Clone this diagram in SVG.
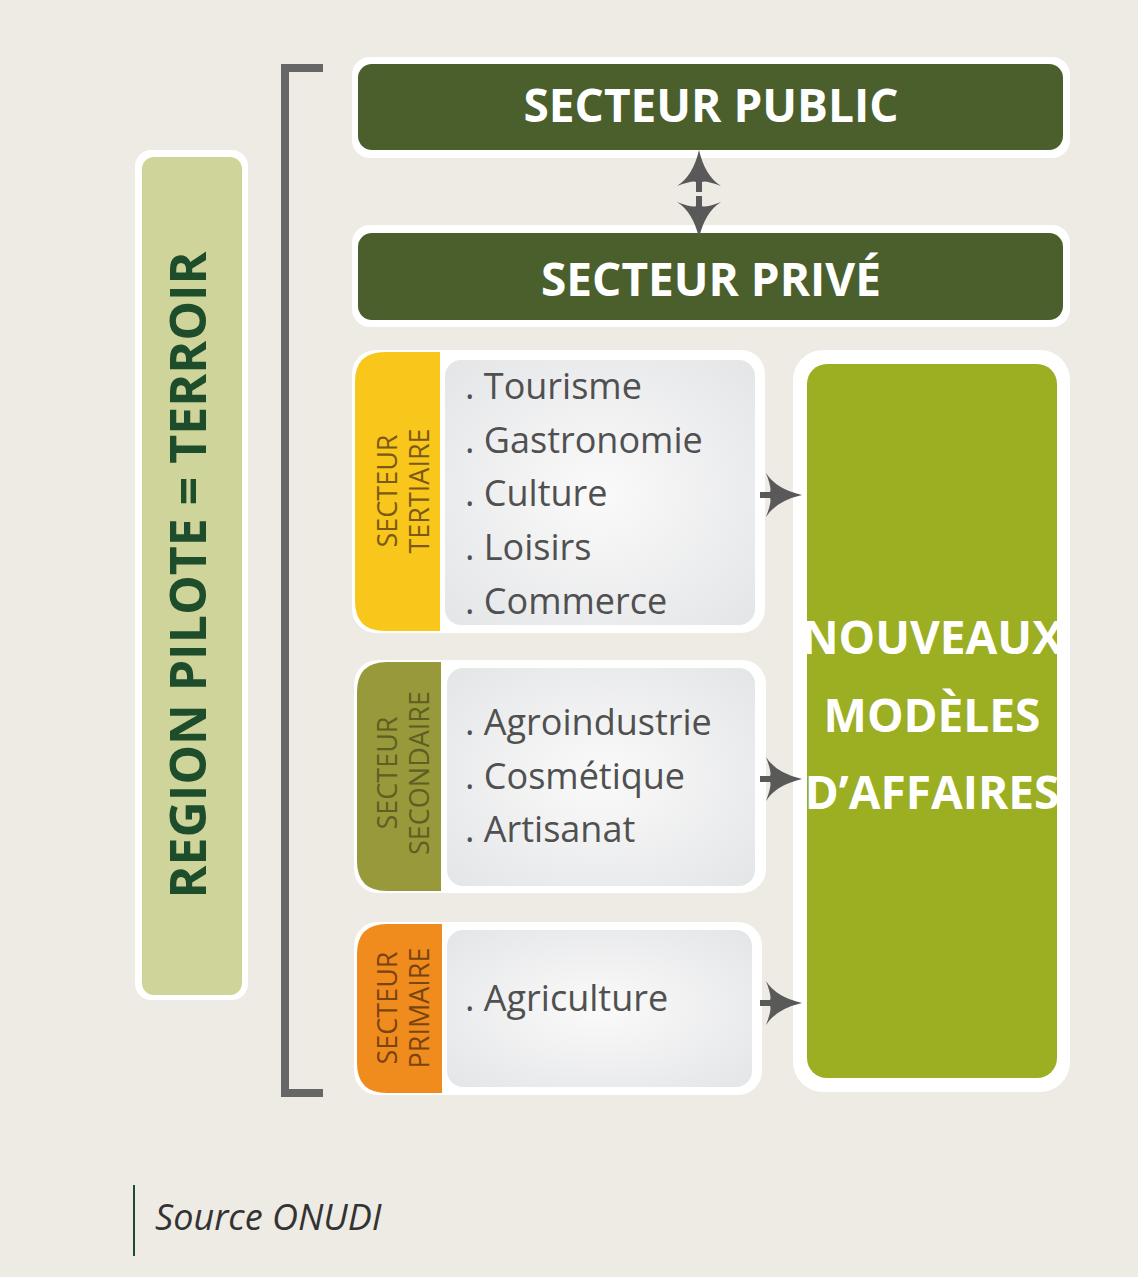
<svg xmlns="http://www.w3.org/2000/svg" width="1138" height="1277" viewBox="0 0 1138 1277">
<defs>
<radialGradient id="g" cx="0.5" cy="0.5" r="0.7"><stop offset="0" stop-color="#FAFAFA"/><stop offset="1" stop-color="#E4E5E7"/></radialGradient>
<path id="ar" d="M0,-22 Q10,-6 36,0 Q10,6 0,22 Q6,6 4,3 L-6,3 L-6,-3 L4,-3 Q6,-6 0,-22 Z" fill="#595959"/>
</defs>
<style>
.sans{font-family:"Lato","Open Sans","Liberation Sans",sans-serif}
.head{font-family:"Open Sans","Liberation Sans",sans-serif;font-weight:bold;fill:#fff;font-size:46px;text-anchor:middle}
.item{font-family:"Open Sans","Liberation Sans",sans-serif;font-size:36px;fill:#505050}
.tab{font-family:"Open Sans","Liberation Sans",sans-serif;font-size:27px;text-anchor:middle}
.wb{fill:#fff}
</style>
<rect width="1138" height="1277" fill="#EEEBE4"/>
<g id="region">
<rect x="135" y="150" width="113" height="850" rx="16" class="wb"/>
<rect x="142" y="157" width="100" height="838" rx="12" fill="#CFD49A"/>
<text transform="translate(206,575) rotate(-90)" text-anchor="middle" font-family="'Open Sans','Liberation Sans',sans-serif" font-weight="bold" font-size="50" fill="#1E4D2B">REGION PILOTE = TERROIR</text>
</g>
<g id="bracket"><path d="M323,68 H285 V1093 H323" fill="none" stroke="#666" stroke-width="8"/></g>
<g id="public">
<rect x="352" y="57" width="718" height="101" rx="18" class="wb"/>
<rect x="358" y="64" width="705" height="86" rx="14" fill="#4A5F2C"/>
<text x="711" y="122" class="head">SECTEUR PUBLIC</text>
</g>
<g id="prive">
<rect x="352" y="225" width="718" height="102" rx="18" class="wb"/>
<rect x="358" y="233" width="705" height="87" rx="14" fill="#4A5F2C"/>
<text x="711" y="296" class="head">SECTEUR PRIVÉ</text>
</g>
<g id="tertiaire">
<rect x="352" y="350" width="413" height="283" rx="24" class="wb"/>
<path d="M440,352 V631 H385 Q355,631 355,601 V382 Q355,352 385,352 Z" fill="#F9C61B"/>
<rect x="445" y="360" width="310" height="265" rx="16" fill="url(#g)"/>
<text transform="translate(397,491) rotate(-90)" class="tab" fill="#7A5A14"><tspan x="0" y="0">SECTEUR</tspan><tspan x="0" y="32">TERTIAIRE</tspan></text>
<text class="item" x="465"><tspan y="399">. Tourisme</tspan><tspan x="465" y="453">. Gastronomie</tspan><tspan x="465" y="506">. Culture</tspan><tspan x="465" y="560">. Loisirs</tspan><tspan x="465" y="614">. Commerce</tspan></text>
</g>
<g id="secondaire">
<rect x="354" y="660" width="412" height="233" rx="24" class="wb"/>
<path d="M441,662 V891 H387 Q357,891 357,861 V692 Q357,662 387,662 Z" fill="#98993A"/>
<rect x="447" y="668" width="308" height="218" rx="16" fill="url(#g)"/>
<text transform="translate(397,773) rotate(-90)" class="tab" fill="#5E5F22"><tspan x="0" y="0">SECTEUR</tspan><tspan x="0" y="32">SECONDAIRE</tspan></text>
<text class="item" x="465"><tspan y="735">. Agroindustrie</tspan><tspan x="465" y="789">. Cosmétique</tspan><tspan x="465" y="842">. Artisanat</tspan></text>
</g>
<g id="primaire">
<rect x="354" y="922" width="408" height="173" rx="24" class="wb"/>
<path d="M442,924 V1093 H387 Q357,1093 357,1063 V954 Q357,924 387,924 Z" fill="#F08B1E"/>
<rect x="447" y="930" width="305" height="157" rx="16" fill="url(#g)"/>
<text transform="translate(397,1008) rotate(-90)" class="tab" fill="#7A4410"><tspan x="0" y="0">SECTEUR</tspan><tspan x="0" y="32">PRIMAIRE</tspan></text>
<text class="item" x="465" y="1011">. Agriculture</text>
</g>
<g id="nouveaux">
<rect x="793" y="350" width="277" height="742" rx="30" class="wb"/>
<rect x="807" y="364" width="250" height="714" rx="20" fill="#9CAE22"/>
<text class="head" font-size="40" x="932"><tspan x="932" y="654">NOUVEAUX</tspan><tspan x="932" y="732">MODÈLES</tspan><tspan x="932" y="809">D’AFFAIRES</tspan></text>
</g>
<g id="connectors">
<use href="#ar" transform="translate(699,194) rotate(-90) translate(8,0)"/>
<use href="#ar" transform="translate(699,194) rotate(90) translate(8,0)"/>
<use href="#ar" transform="translate(766,495)"/>
<use href="#ar" transform="translate(766,779)"/>
<use href="#ar" transform="translate(766,1003)"/>
</g>
<g id="source">
<line x1="134" y1="1185" x2="134" y2="1256" stroke="#1E4D2B" stroke-width="2"/>
<text x="155" y="1230" font-family="'Open Sans','Liberation Sans',sans-serif" font-style="italic" font-size="36" fill="#333">Source ONUDI</text>
</g>
</svg>
